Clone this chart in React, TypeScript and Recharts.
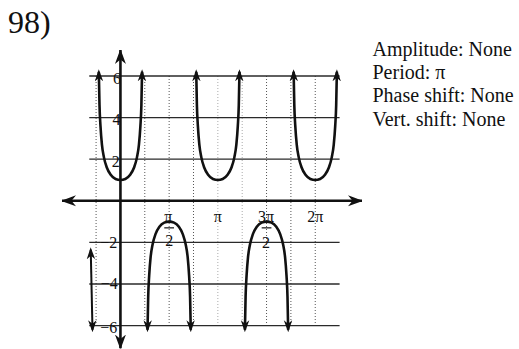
import React from "react";
import { LineChart, Line, XAxis, YAxis, ReferenceLine, ReferenceDot } from "recharts";

// x values are in multiples of pi
const upCenters = [0, 1, 2];
const downCenters = [0.5, 1.5];
// one half of a branch: distance from the branch centre and |y|
const branchOffsets = [0, 0.05, 0.1, 0.14, 0.17, 0.19, 0.205, 0.215, 0.222];
const branchValues = [1, 1.05, 1.25, 1.6, 2.1, 2.7, 3.6, 4.6, 6.2];
// the short piece drawn at the left edge below the axis
const leftPieceX = [-0.305, -0.287];
const leftPieceY = [-2.35, -6.2];

const xAxisEnds = [-0.6, 2.48];
const yAxisEnds = [-7.1, 7.25];

const gridRows = [6, 4, 2, -2, -4, -6];
const gridRowFrom = -0.32;
const gridRowTo = 2.25;
const gridCols = [-0.25, 0.25, 0.5, 0.75, 1, 1.25, 1.5, 1.75, 2];
const faintCols = [1, 1.25];

const yTickText = ["6", "4", "2", "\u22122", "\u22124", "\u22126"];
const yTickX = [-0.035, -0.04, -0.048, -0.12, -0.115, -0.12];
const yTickY = [5.9, 3.9, 1.9, -1.98, -3.96, -6.07];

const xTickText = ["\u03c0", "2", "\u03c0", "3\u03c0", "2", "2\u03c0"];
const xTickX = [0.49, 0.5, 1.0, 1.495, 1.495, 2.0];
const xTickY = [-0.76, -1.91, -0.76, -0.74, -1.99, -0.76];
const fractionBars = [0.5, 1.5];

const infoLines = ["Amplitude: None", "Period: \u03c0", "Phase shift: None", "Vert. shift: None"];

const ink = "#111";
const serif = '"Liberation Serif", "Times New Roman", serif';

function branch(c: number, sign: number) {
  const left = branchOffsets.map((o, i) => ({ x: c - o, y: sign * branchValues[i] })).reverse();
  const right = branchOffsets.slice(1).map((o, i) => ({ x: c + o, y: sign * branchValues[i + 1] }));
  return [...left, ...right];
}

const branches = [
  ...upCenters.map((c) => branch(c, 1)),
  ...downCenters.map((c) => branch(c, -1)),
];
const leftPiece = leftPieceX.map((x, i) => ({ x, y: leftPieceY[i] }));
const xAxisLine = xAxisEnds.map((x) => ({ x, y: 0 }));
const yAxisLine = yAxisEnds.map((y) => ({ x: 0, y }));

export default function App() {
  return (
    <div
      style={{
        position: "absolute",
        left: 0,
        top: 0,
        width: 519,
        height: 349,
        background: "#fff",
        fontFamily: serif,
        color: ink,
      }}
    >
      <svg width={0} height={0} style={{ position: "absolute" }}>
        <defs>
          <marker id="tip" viewBox="0 0 12 10" refX={9.5} refY={5} markerWidth={12} markerHeight={10} markerUnits="userSpaceOnUse" orient="auto-start-reverse">
            <path d="M12,5 L0,0.8 L3.5,5 L0,9.2 Z" fill={ink} />
          </marker>
          <marker id="axisTip" viewBox="0 0 15 12" refX={14} refY={6} markerWidth={15} markerHeight={12} markerUnits="userSpaceOnUse" orient="auto-start-reverse">
            <path d="M15,6 L0,0.5 L4.5,6 L0,11.5 Z" fill={ink} />
          </marker>
        </defs>
      </svg>
      <div style={{ position: "absolute", left: 8, top: 6, fontSize: 32, lineHeight: "32px" }}>98)</div>
      <div style={{ position: "absolute", left: 372.5, top: 38, fontSize: 20, lineHeight: "23.2px", whiteSpace: "nowrap" }}>
        {infoLines.map((l) => (
          <div key={l}>{l}</div>
        ))}
      </div>
      <div style={{ position: "absolute", left: 0, top: 0 }}>
        <LineChart width={519} height={349} margin={{ top: 50, right: 157, bottom: 0.5, left: 62 }}>
          <XAxis type="number" dataKey="x" domain={xAxisEnds} allowDataOverflow hide />
          <YAxis type="number" dataKey="y" domain={yAxisEnds} allowDataOverflow hide />
          {gridCols.map((c) => (
            <ReferenceLine
              key={"c" + c}
              segment={[{ x: c, y: 6 }, { x: c, y: -6 }]}
              stroke={faintCols.includes(c) ? "#aaa" : "#555"}
              strokeWidth={1}
              strokeDasharray="1 2"
              ifOverflow="visible"
            />
          ))}
          {gridRows.map((r) => (
            <ReferenceLine
              key={"r" + r}
              segment={[{ x: gridRowFrom, y: r }, { x: gridRowTo, y: r }]}
              stroke="#2a2a2a"
              strokeWidth={1.3}
              ifOverflow="visible"
            />
          ))}
          {fractionBars.map((c) => (
            <ReferenceLine
              key={"f" + c}
              segment={[{ x: c - 0.05, y: -1.3 }, { x: c + 0.05, y: -1.3 }]}
              stroke={ink}
              strokeWidth={1.2}
              ifOverflow="visible"
            />
          ))}
          <Line data={xAxisLine} dataKey="y" type="linear" stroke={ink} strokeWidth={2.6} dot={false} activeDot={false} isAnimationActive={false} markerStart="url(#axisTip)" markerEnd="url(#axisTip)" />
          <Line data={yAxisLine} dataKey="y" type="linear" stroke={ink} strokeWidth={2.6} dot={false} activeDot={false} isAnimationActive={false} markerStart="url(#axisTip)" markerEnd="url(#axisTip)" />
          {branches.map((b, i) => (
            <Line
              key={"b" + i}
              data={b}
              dataKey="y"
              type="monotone"
              stroke={ink}
              strokeWidth={2.6}
              dot={false}
              activeDot={false}
              isAnimationActive={false}
              markerStart="url(#tip)"
              markerEnd="url(#tip)"
            />
          ))}
          <Line data={leftPiece} dataKey="y" type="linear" stroke={ink} strokeWidth={2} dot={false} activeDot={false} isAnimationActive={false} markerStart="url(#tip)" markerEnd="url(#tip)" />
          {yTickText.map((t, i) => (
            <ReferenceDot
              key={"yt" + i}
              x={yTickX[i]}
              y={yTickY[i]}
              r={0}
              fill="none"
              stroke="none"
              ifOverflow="visible"
              label={{ value: t, position: "center", fill: ink, fontSize: 16, fontFamily: serif }}
            />
          ))}
          {xTickText.map((t, i) => (
            <ReferenceDot
              key={"xt" + i}
              x={xTickX[i]}
              y={xTickY[i]}
              r={0}
              fill="none"
              stroke="none"
              ifOverflow="visible"
              label={{ value: t, position: "center", fill: ink, fontSize: 16, fontFamily: serif }}
            />
          ))}
        </LineChart>
      </div>
    </div>
  );
}
